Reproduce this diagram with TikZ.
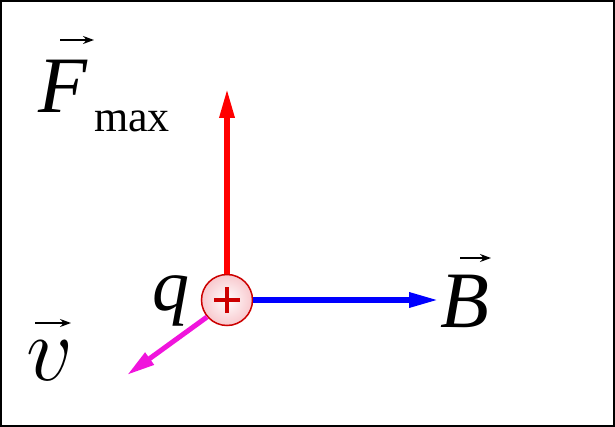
\documentclass[tikz,border=0pt]{standalone}
\usepackage{fix-cm}
\usepackage{fontspec}
\setmainfont{Liberation Serif}
\usetikzlibrary{arrows.meta}
\definecolor{vmag}{RGB}{240,20,220}
\definecolor{qred}{RGB}{204,0,0}
\definecolor{qpink}{RGB}{248,200,205}
\begin{document}
\begin{tikzpicture}[x=1pt,y=-1pt,
  biglbl/.style={inner sep=0pt, anchor=base west, font=\fontsize{80}{90}\selectfont\itshape},
  sublbl/.style={inner sep=0pt, anchor=base west, font=\fontsize{44}{50}\selectfont},
  vecarr/.style={line width=1.6pt, -{Stealth[length=11pt,width=8pt]}},
  bigarr/.style={line width=6pt, -{Triangle[length=30pt,width=14pt]}},
  charge/.style={circle, minimum size=51pt, inner sep=0pt, draw=qred, line width=1.5pt, inner color=white, outer color=qpink},
]
\useasboundingbox (0,0) rectangle (615,427);
\draw[line width=2pt] (1,1) rectangle (614,426);

% charge
\node[charge] (q) at (227,300) {};
\draw[qred, line width=3.5pt] ([xshift=-13pt]q.center) -- ([xshift=13pt]q.center);
\draw[qred, line width=3.5pt] ([yshift=-13pt]q.center) -- ([yshift=13pt]q.center);

% tips
\coordinate (ftip) at (227,88);
\coordinate (btip) at (439,300);
\coordinate (vtip) at (127,375);
\coordinate (vstart) at (207,317);

\draw[bigarr, red] (q.north) -- (ftip);
\draw[bigarr, blue] (q.east) -- (btip);
\draw[vmag, line width=5pt, -{Triangle[length=28pt,width=14pt]}] (vstart) -- (vtip);

% labels
\node[biglbl] (F) at (38,113) {F};
\node[sublbl] (max) at (94,132) {max};
\node[biglbl] (B) at (440,327) {B};
\node[biglbl, font=\fontsize{74}{80}\selectfont\itshape] (qlbl) at (152,310) {q};
\node[biglbl, font=\fontsize{92}{100}\selectfont] (v) at (26,380) {$v$};

% vector arrows
\coordinate (fa1) at (60,40); \coordinate (fa2) at (94,40);
\coordinate (ba1) at (460,258); \coordinate (ba2) at (491,258);
\coordinate (va1) at (35,323); \coordinate (va2) at (71,323);
\draw[vecarr] (fa1) -- (fa2);
\draw[vecarr] (ba1) -- (ba2);
\draw[vecarr] (va1) -- (va2);
\end{tikzpicture}
\end{document}
